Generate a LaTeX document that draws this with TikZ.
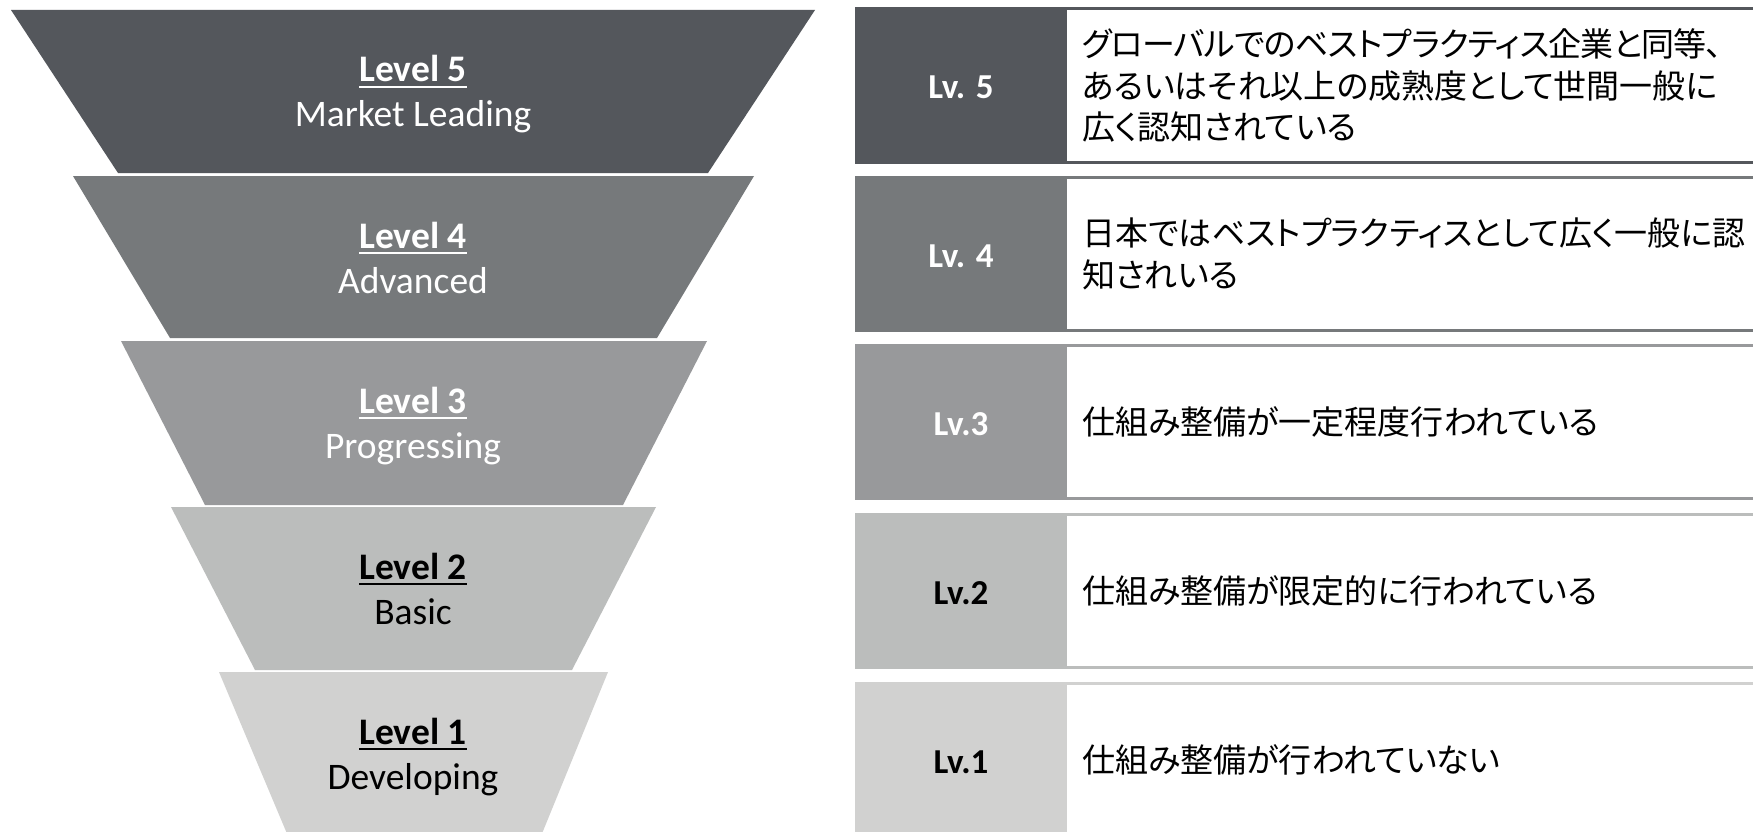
\documentclass[tikz,border=0pt]{standalone}
\usepackage{fontspec}
\setmainfont{Carlito}
\newfontfamily\jpfont[RawFeature={+palt}]{Noto Sans CJK JP}
\newfontfamily\jpfonttight[RawFeature={+palt},LetterSpace=-2.5]{Noto Sans CJK JP}
\definecolor{c5}{HTML}{54575C}
\definecolor{c4}{HTML}{76797B}
\definecolor{c3}{HTML}{98999B}
\definecolor{c2}{HTML}{BBBDBC}
\definecolor{c1}{HTML}{D1D1D0}
\tikzset{
  lvltitle/.style={anchor=base, inner sep=0pt, font=\fontsize{37.5}{44}\selectfont\bfseries},
  lvlsub/.style={anchor=base, inner sep=0pt, font=\fontsize{37.5}{44}\selectfont},
  ulline/.style={line width=2.2pt},
  lvtag/.style={anchor=base, inner sep=0pt, font=\fontsize{35}{42}\selectfont\bfseries},
  desc/.style={anchor=west, inner sep=0pt, align=left, font=\jpfont\fontsize{33}{41.5}\selectfont},
  rowframe/.style={line width=3pt, fill=white},
}
\begin{document}
\begin{tikzpicture}[x=1pt, y=-1pt]
\useasboundingbox (0,0) rectangle (1753,832);
\clip (0,0) rectangle (1753,832);
\fill[white] (0,0) rectangle (1753,832);

% ---------- funnel ----------
\fill[c5] (11,10) -- (815,10) -- (708,173) -- (118,173) -- cycle;
\fill[c4] (73,176) -- (754,176) -- (657,338) -- (170,338) -- cycle;
\fill[c3] (121,341) -- (707,341) -- (623,505) -- (205,505) -- cycle;
\fill[c2] (171,507) -- (656,507) -- (572,670) -- (255,670) -- cycle;
\fill[c1] (219,672) -- (608,672) -- (541,836) -- (288,836) -- cycle;

\node[lvltitle, text=white] (L5) at (413,82) {Level 5};
\draw[ulline, white] ([yshift=-5pt]L5.base west) -- ([yshift=-5pt]L5.base east);
\node[lvlsub, text=white] (S5) at (413,127) {Market Leading};

\node[lvltitle, text=white] (L4) at (413,248) {Level 4};
\draw[ulline, white] ([yshift=-5pt]L4.base west) -- ([yshift=-5pt]L4.base east);
\node[lvlsub, text=white] (S4) at (413,293) {Advanced};

\node[lvltitle, text=white] (L3) at (413,413) {Level 3};
\draw[ulline, white] ([yshift=-5pt]L3.base west) -- ([yshift=-5pt]L3.base east);
\node[lvlsub, text=white] (S3) at (413,458) {Progressing};

\node[lvltitle, text=black] (L2) at (413,579) {Level 2};
\draw[ulline, black] ([yshift=-5pt]L2.base west) -- ([yshift=-5pt]L2.base east);
\node[lvlsub, text=black] (S2) at (413,624) {Basic};

\node[lvltitle, text=black] (L1) at (413,744) {Level 1};
\draw[ulline, black] ([yshift=-5pt]L1.base west) -- ([yshift=-5pt]L1.base east);
\node[lvlsub, text=black] (S1) at (413,789) {Developing};

% ---------- table rows ----------
% row 5
\draw[rowframe, draw=c5] (856.5,8.5) rectangle (1770,162.5);
\fill[c5] (855,7) rectangle (1067,164);
\node[lvtag, text=white] (R5) at (961,98.5) {Lv. 5};
\node[desc] (D5) at (1082,85.5) {{\jpfonttight グローバルでのベストプラクティス企業と同等、}\\あるいはそれ以上の成熟度として世間一般に\\広く認知されている};

% row 4
\draw[rowframe, draw=c4] (856.5,177.5) rectangle (1770,330.5);
\fill[c4] (855,176) rectangle (1067,332);
\node[lvtag, text=white] (R4) at (961,267) {Lv. 4};
\node[desc] (D4) at (1082,254) {日本ではベストプラクティスとして広く一般に認\\知されいる};

% row 3
\draw[rowframe, draw=c3] (856.5,345.5) rectangle (1770,498.5);
\fill[c3] (855,344) rectangle (1067,500);
\node[lvtag, text=white] (R3) at (961,435) {Lv.3};
\node[desc] (D3) at (1082,422) {仕組み整備が一定程度行われている};

% row 2
\draw[rowframe, draw=c2] (856.5,514.5) rectangle (1770,667.5);
\fill[c2] (855,513) rectangle (1067,669);
\node[lvtag, text=black] (R2) at (961,604) {Lv.2};
\node[desc] (D2) at (1082,591) {仕組み整備が限定的に行われている};

% row 1
\draw[rowframe, draw=c1] (856.5,683.5) rectangle (1770,836.5);
\fill[c1] (855,682) rectangle (1067,838);
\node[lvtag, text=black] (R1) at (961,773) {Lv.1};
\node[desc] (D1) at (1082,760) {仕組み整備が行われていない};
\end{tikzpicture}
\end{document}
